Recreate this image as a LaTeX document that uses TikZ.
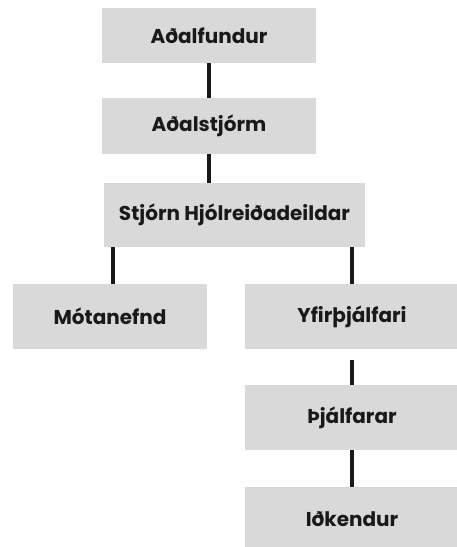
\documentclass[tikz,border=0pt]{standalone}
\usepackage{fontspec}
\setmainfont{Poppins}
\begin{document}
\begin{tikzpicture}[x=1pt,y=-1pt,
  box/.style={fill=boxgray,inner sep=0pt,font=\fontsize{20}{22}\selectfont\bfseries,text=black!90},
  link/.style={line width=4pt,black!90}]
\definecolor{boxgray}{HTML}{D9D9D9}
\useasboundingbox (0,0) rectangle (457,547);
\begin{scope}
\clip (0,0) rectangle (457,547);
\node[box,minimum width=214,minimum height=55] (b1) at (209,35.5) {Aðalfundur};
\node[box,minimum width=214,minimum height=56] (b2) at (209,126) {Aðalstjórm};
\node[box,minimum width=261,minimum height=64] (b3) at (234.5,215) {Stjórn Hjólreiðadeildar};
\node[box,minimum width=194,minimum height=65] (b4) at (110,316.5) {Mótanefnd};
\node[box,minimum width=214,minimum height=65] (b5) at (352,316.5) {Yfirþjálfari};
\node[box,minimum width=214,minimum height=65] (b6) at (352,417.5) {Þjálfarar};
\node[box,minimum width=214,minimum height=65] (b7) at (352,519.5) {Iðkendur};
\end{scope}
\draw[link] (b1.south) -- (b2.north);
\draw[link] (b2.south) -- (b2.south |- b3.north);
\draw[link] ([xshift=3]b4.north |- b3.south) -- ([xshift=3]b4.north);
\draw[link] (b5.north |- b3.south) -- (b5.north);
\draw[link,shorten <=11pt] (b5.south) -- (b6.north);
\draw[link] (b6.south) -- (b7.north);
\end{tikzpicture}
\end{document}
